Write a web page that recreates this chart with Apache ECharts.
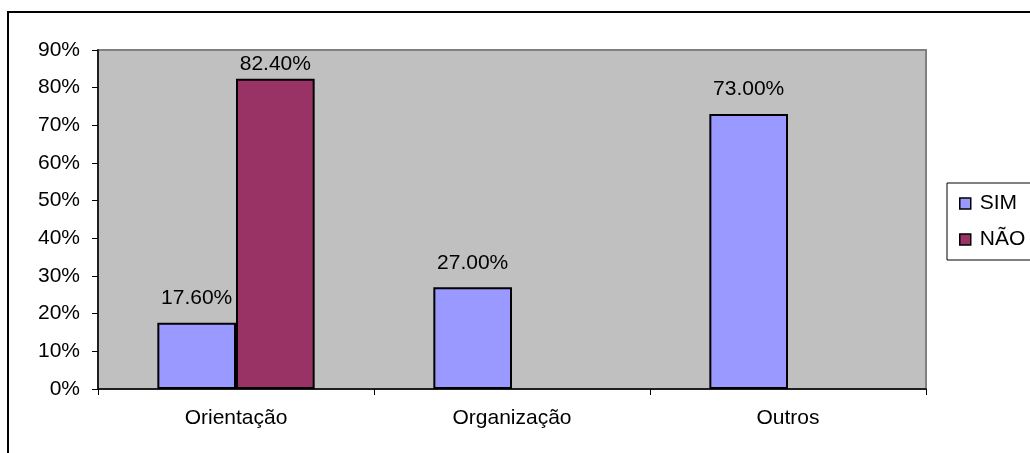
<!DOCTYPE html>
<html>
<head>
<meta charset="utf-8">
<script src="https://cdn.jsdelivr.net/npm/echarts@6/dist/echarts.min.js"></script>
<style>html,body{margin:0;padding:0;background:#fff;}#c{width:1030px;height:453px;}</style>
</head>
<body>
<div id="c"></div>
<script>
const categories = ['Orientação', 'Organização', 'Outros'];
const simValues = [17.6, 27.0, 73.0];
const naoValues = [82.4, null, null];
const seriesNames = ['SIM', 'NÃO'];
const yTicks = [0, 10, 20, 30, 40, 50, 60, 70, 80, 90];

const FONT = 'Liberation Sans, Arial, sans-serif';
const FS = 21;
const chart = echarts.init(document.getElementById('c'), null, {renderer: 'canvas'});

function mkData(vals) {
  return vals.map(v => {
    if (v == null) return null;
    const item = {value: v};
    if (v > 80) item.label = {distance: 4};
    return item;
  });
}

const labelCfg = {
  show: true, position: 'top', distance: 14,
  fontFamily: FONT, fontSize: FS, color: '#000',
  formatter: p => p.value.toFixed(2) + '%'
};

chart.setOption({
  animation: false,
  backgroundColor: '#fff',
  textStyle: {fontFamily: FONT},
  graphic: [{
    type: 'rect', shape: {x: 8, y: 12, width: 1100, height: 500},
    style: {fill: 'none', stroke: '#000', lineWidth: 2}, z: -1
  }],
  grid: {
    left: 98, right: 104, top: 50, bottom: 64,
    show: true, backgroundColor: '#C0C0C0', borderColor: '#808080', borderWidth: 2
  },
  legend: {
    orient: 'vertical', left: 947, top: 183,
    data: seriesNames,
    icon: 'rect', itemWidth: 11, itemHeight: 11, itemGap: 15,
    padding: [10, 30, 10, 12],
    borderColor: '#000', borderWidth: 1,
    textStyle: {fontFamily: FONT, fontSize: FS, color: '#000', padding: [0, 0, 0, 4]},
    itemStyle: {borderColor: '#000', borderWidth: 1.5}
  },
  xAxis: {
    type: 'category', data: categories,
    axisLine: {lineStyle: {color: '#000', width: 1.5}},
    axisTick: {show: true, length: 6, lineStyle: {color: '#000'}},
    axisLabel: {fontFamily: FONT, fontSize: FS, color: '#000', margin: 19}
  },
  yAxis: {
    type: 'value', min: yTicks[0], max: yTicks[yTicks.length - 1], interval: 10,
    axisLine: {show: true, lineStyle: {color: '#000', width: 1.5}},
    axisTick: {show: true, length: 6, lineStyle: {color: '#000'}},
    splitLine: {show: false},
    axisLabel: {fontFamily: FONT, fontSize: FS, color: '#000', margin: 18, formatter: '{value}%'}
  },
  series: [
    {name: seriesNames[0], type: 'bar', data: mkData(simValues), barGap: '0%', barCategoryGap: '43%',
     itemStyle: {color: '#9999FF', borderColor: '#000', borderWidth: 2}, label: labelCfg},
    {name: seriesNames[1], type: 'bar', data: mkData(naoValues),
     itemStyle: {color: '#993366', borderColor: '#000', borderWidth: 2}, label: labelCfg}
  ]
});
</script>
</body>
</html>
